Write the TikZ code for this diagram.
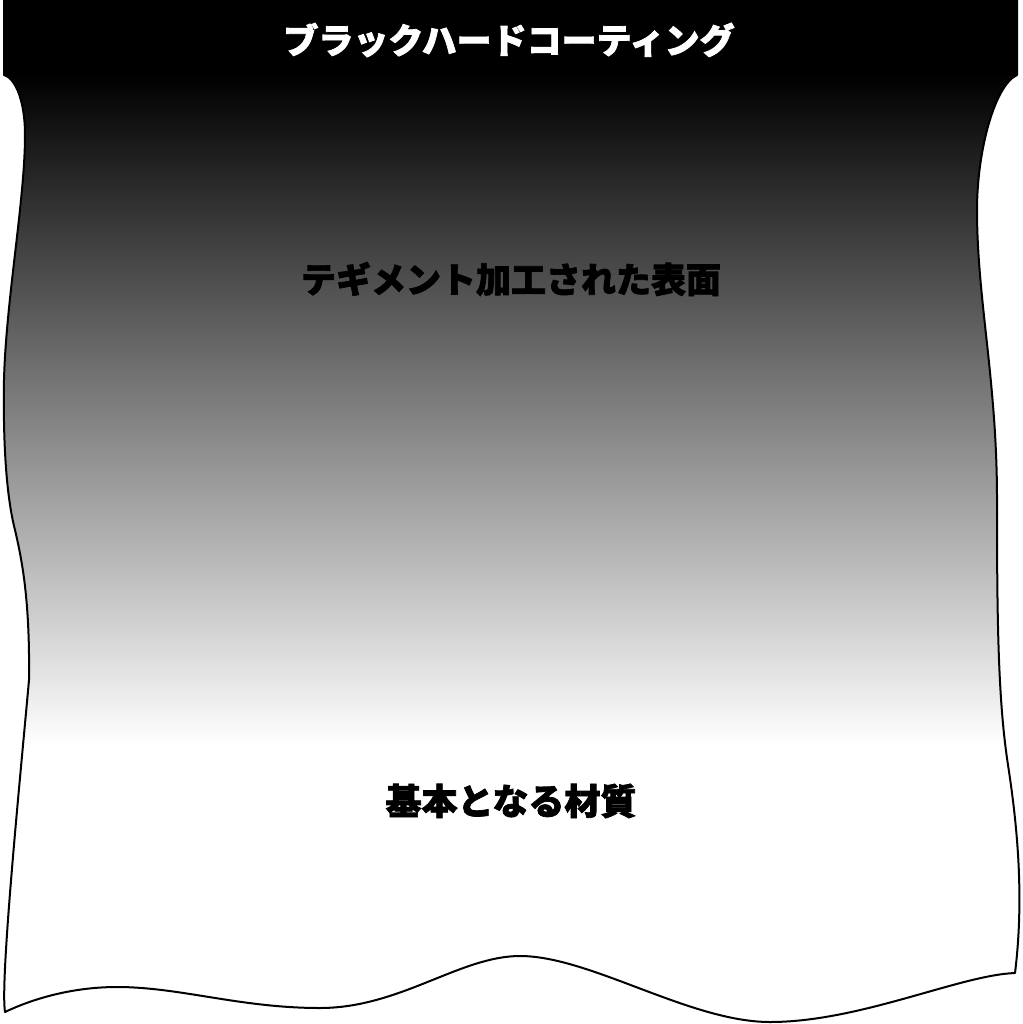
\documentclass[tikz,border=0pt]{standalone}
\usepackage{fontspec}
\newfontfamily\cjk{Noto Sans CJK JP Black}[FakeBold=2]
\tikzset{
  lbl/.style={font=\cjk\fontsize{35}{35}\selectfont, inner sep=0pt, anchor=center},
  outline/.style={draw=black, line width=2pt, line join=round}
}
\def\sheetpath{(4,0) -- (1017,0) -- (1017,75)
 .. controls (995,85) and (977,150) .. (977,210)
 .. controls (977,300) and (997,380) .. (997,500)
 .. controls (997,620) and (998,700) .. (1008,765)
 .. controls (1018,830) and (1024,900) .. (1015,973)
 .. controls (960,975) and (860,1022) .. (770,1022)
 .. controls (690,1022) and (590,956) .. (520,956)
 .. controls (460,956) and (400,1008) .. (320,1008)
 .. controls (240,1008) and (180,987) .. (117,987)
 .. controls (70,987) and (30,1000) .. (5,1012)
 .. controls (0,980) and (20,780) .. (29,680)
 .. controls (30,600) and (22,560) .. (15,530)
 .. controls (6,495) and (3,440) .. (4,380)
 .. controls (6,300) and (25,200) .. (25,135)
 .. controls (25,100) and (15,78) .. (4,75) -- cycle}
\begin{document}
\begin{tikzpicture}[x=1pt,y=-1pt]
\useasboundingbox (0,0) rectangle (1022,1024);
\fill[white] (0,0) rectangle (1022,1024);
\begin{scope}
  \clip \sheetpath;
  \fill[black] (0,0) rectangle (1022,75.5);
  \shade[top color=black,bottom color=white] (0,75) rectangle (1022,745);
\end{scope}
\path[outline] \sheetpath;
\node[lbl, text=white] (title) at (509,40) {ブラックハードコーティング};
\node[lbl, text=black] (surface) at (511,279) {テギメント加工された表面};
\node[lbl, text=black, font=\cjk\fontsize{36}{36}\selectfont] (base) at (511,801) {基本となる材質};
\end{tikzpicture}
\end{document}
